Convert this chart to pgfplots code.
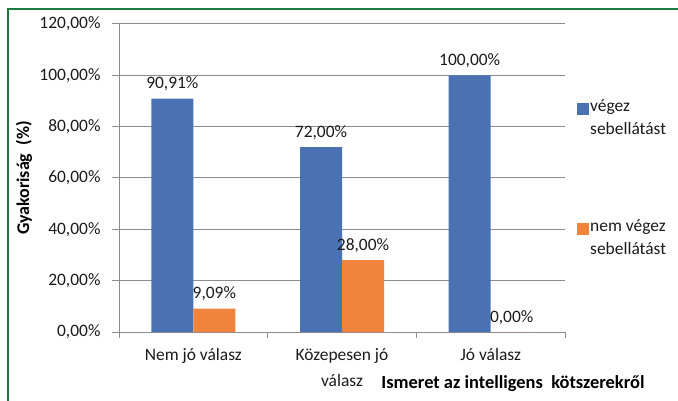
\documentclass[border=0pt]{standalone}
\usepackage{pgfplots}
\pgfplotsset{compat=1.18}
\usepackage{fontspec}
\setmainfont{Carlito}
\definecolor{barblue}{HTML}{4A72B2}
\definecolor{barorange}{HTML}{F0843C}
\definecolor{gridgray}{HTML}{8C8C8C}
\definecolor{framegreen}{HTML}{1F7A3F}
\definecolor{txt}{HTML}{1A1A1A}
\begin{document}
\begin{tikzpicture}
\useasboundingbox (0,0) rectangle (678bp,401bp);
\draw[framegreen, line width=1.5bp] (8bp,0bp) -- (8bp,392bp) -- (678bp,392bp);
\begin{axis}[
  at={(119bp,69bp)}, anchor=south west,
  scale only axis, width=446bp, height=308bp,
  ymin=0, ymax=120, ytick={0,20,...,120},
  xmin=-0.5, xmax=2.5,
  xtick={0,1,2},
  xticklabels={Nem jó válasz, {Közepesen jó\\válasz}, Jó válasz},
  xtick style={draw=none},
  extra x ticks={-0.5,0.5,1.5,2.5},
  extra x tick labels={},
  extra x tick style={major tick length=6bp, xtick style={draw=gridgray, line width=1bp}},
  ytick style={draw=gridgray, line width=1bp},
  tick align=outside, major tick length=7bp,
  axis x line*=bottom, axis y line*=left,
  axis line style={draw=gridgray, line width=1bp, -},
  ymajorgrids, grid style={draw=gridgray, line width=1bp},
  ybar=0pt, bar width=42bp,
  ticklabel style={font=\fontsize{17.5}{26}\selectfont, text=txt},
  xticklabel style={align=center, yshift=-6bp},
  yticklabel style={xshift=-8bp},
  yticklabel={\pgfmathprintnumber[fixed,fixed zerofill,precision=2,use comma,assume math mode=true]{\tick}\%},
  nodes near coords={\pgfmathprintnumber[fixed,fixed zerofill,precision=2,use comma,assume math mode=true]{\pgfplotspointmeta}\%},
  every node near coord/.append style={font=\fontsize{17.5}{20}\selectfont, text=txt, yshift=4bp},
  ylabel={Gyakoriság\ \ (\%)},
  every axis y label/.style={at={(axis description cs:-0.213,0.5)}, rotate=90, anchor=center, font=\bfseries\fontsize{18}{20}\selectfont, text=black},
  xlabel={Ismeret az intelligens\ \ kötszerekről},
  every axis x label/.style={at={(axis description cs:0.8834,-0.1688)}, anchor=center, font=\bfseries\fontsize{18.5}{20}\selectfont, text=black},
  legend style={at={(axis description cs:1,0.5)}, anchor=west, xshift=12bp, draw=none, fill=none, inner sep=0pt, row sep=82bp, column sep=0bp,
    font=\fontsize{17.5}{23}\selectfont, text=txt, nodes={align=left, inner sep=1bp}},
  legend cell align=left,
  legend image code/.code={\fill[#1] (0bp,3bp) rectangle (12bp,15bp);},
]
\addplot[fill=barblue, draw=none] coordinates {(0,90.91) (1,72) (2,100)};
\addplot[fill=barorange, draw=none] coordinates {(0,9.09) (1,28) (2,0)};
\addlegendentry{végez\\sebellátást}
\addlegendentry{nem végez\\sebellátást}
\end{axis}
\end{tikzpicture}
\end{document}
